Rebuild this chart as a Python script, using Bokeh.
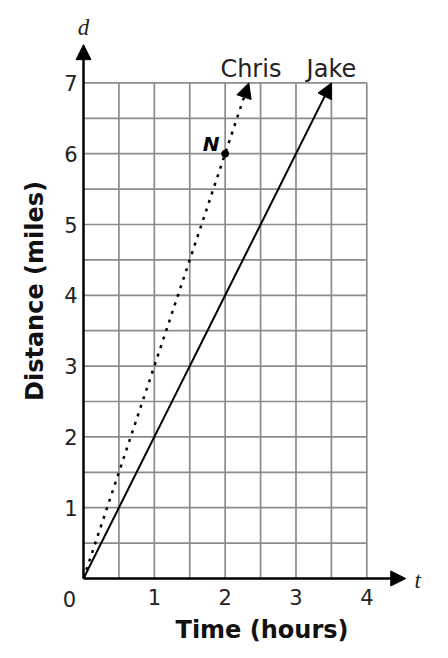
from bokeh.plotting import figure
from bokeh.models import Range1d, FixedTicker, Arrow, NormalHead, Label
from bokeh.embed import file_html
from bokeh.resources import INLINE
import numpy as np

# data
chris_t = [0, 7 / 3]
chris_d = [0, 7]
jake_t = [0, 3.5]
jake_d = [0, 7]
point_n = (2, 6)
x_ticks = [1, 2, 3, 4]
y_ticks = [1, 2, 3, 4, 5, 6, 7]
x_max, y_max = 4, 7

FONT = "DejaVu Sans"
SERIF = "Liberation Serif"
TXT = "#222222"

UX, UY = 70.83, 70.8          # pixels per unit
OX, OY = 83, 578              # origin in page pixels
W, H = 440, 650

p = figure(width=W, height=H, output_backend="svg", toolbar_location=None,
           x_range=Range1d(-OX / UX, (W - OX) / UX),
           y_range=Range1d(-(H - OY) / UY, OY / UY),
           frame_width=W, frame_height=H,
           min_border=0)
p.outline_line_color = None
p.xgrid.visible = False
p.ygrid.visible = False

for ax in (p.xaxis[0], p.yaxis[0]):
    ax.fixed_location = 0
    ax.axis_line_color = None
    ax.major_tick_line_color = None
    ax.minor_tick_line_color = None
    ax.major_tick_out = 0
    ax.major_tick_in = 0
    ax.minor_tick_out = 0
    ax.minor_tick_in = 0
    ax.major_label_text_font = FONT
    ax.major_label_text_font_size = "21px"
    ax.major_label_text_color = TXT
    ax.axis_label_text_font = FONT
    ax.axis_label_text_font_style = "bold"
    ax.axis_label_text_font_size = "24px"
    ax.axis_label_text_color = "#111111"

p.xaxis.ticker = FixedTicker(ticks=x_ticks)
p.yaxis.ticker = FixedTicker(ticks=y_ticks)
p.xaxis.bounds = (0, 5.11)
p.yaxis.bounds = (0, 8.12)
p.xaxis.major_label_standoff = 10
p.yaxis.major_label_standoff = 6
p.xaxis.axis_label = "Time (hours)"
p.yaxis.axis_label = "Distance (miles)"
p.xaxis.axis_label_standoff = 8
p.yaxis.axis_label_standoff = 12

# grid
gx = np.arange(0.5, x_max + 0.01, 0.5)
gy = np.arange(0.5, y_max + 0.01, 0.5)
p.segment(x0=gx, y0=[0] * len(gx), x1=gx, y1=[y_max] * len(gx), line_color="#8c8c8c", line_width=1.7)
p.segment(x0=[0] * len(gy), y0=gy, x1=[x_max] * len(gy), y1=gy, line_color="#8c8c8c", line_width=1.7)


def head():
    return NormalHead(size=15, fill_color="black", fill_alpha=1, line_color="black", line_width=1)


# axes arrows
p.add_layout(Arrow(x_start=0, y_start=0, x_end=0, y_end=7.54, line_width=2.5, line_color="black",
                   end=head()))
p.add_layout(Arrow(x_start=0, y_start=0, x_end=4.55, y_end=0, line_width=2.5, line_color="black",
                   end=head()))

# lines
p.add_layout(Arrow(x_start=jake_t[0], y_start=jake_d[0], x_end=jake_t[-1], y_end=jake_d[-1],
                   line_width=2, line_color="black", end=head()))
p.add_layout(Arrow(x_start=chris_t[0], y_start=chris_d[0], x_end=chris_t[-1], y_end=chris_d[-1],
                   line_width=2.5, line_color="black", line_dash="3 6", end=head()))

p.scatter([point_n[0]], [point_n[1]], size=7, color="black")

p.add_layout(Label(x=chris_t[-1] + 0.03, y=chris_d[-1], text="Chris", text_font=FONT,
                   text_font_size="24px", text_align="center", text_baseline="alphabetic",
                   y_offset=14, text_color=TXT))
p.add_layout(Label(x=jake_t[-1], y=jake_d[-1], text="Jake", text_font=FONT,
                   text_font_size="24px", text_align="center", text_baseline="alphabetic",
                   y_offset=14, text_color=TXT))
p.add_layout(Label(x=point_n[0], y=point_n[1], text="N", text_font=FONT, text_font_size="20px",
                   text_font_style="bold italic", text_align="center", text_baseline="middle",
                   x_offset=-14, y_offset=10, text_color="black"))
p.add_layout(Label(x=0, y=0, text="0", text_font=FONT, text_font_size="21px", text_align="center",
                   text_baseline="middle", x_offset=-14, y_offset=-20, text_color=TXT))
p.add_layout(Label(x=0, y=7.54, text="d", text_font=SERIF, text_font_size="23px",
                   text_font_style="italic", text_align="center", text_baseline="middle",
                   y_offset=17, text_color=TXT))
p.add_layout(Label(x=4.55, y=0, text="t", text_font=SERIF, text_font_size="23px",
                   text_font_style="italic", text_align="center", text_baseline="middle",
                   x_offset=12, y_offset=-2, text_color=TXT))

open("out.html", "w").write(file_html(p, INLINE))
